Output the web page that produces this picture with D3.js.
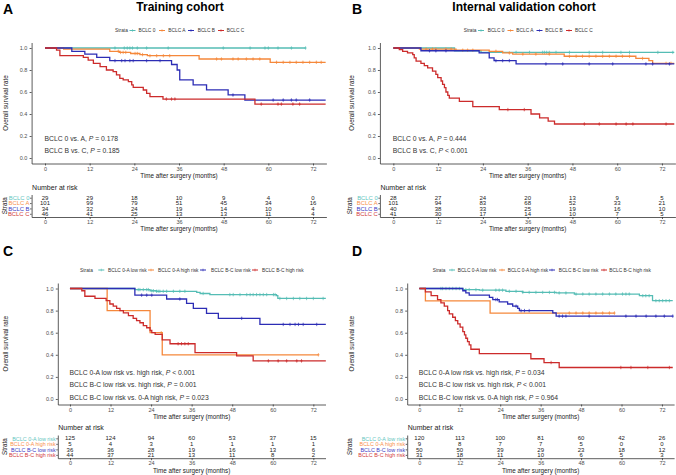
<!DOCTYPE html>
<html><head><meta charset="utf-8">
<script src="https://cdn.jsdelivr.net/npm/d3@7"></script>
<style>body{margin:0;background:#fff}svg{display:block}</style>
</head><body><svg id="chart" width="676" height="475"></svg>
<script>
// ---------------- DATA ----------------
const timeTicks = [0, 12, 24, 36, 48, 60, 72];
const survTicks = [0, 0.2, 0.4, 0.6, 0.8, 1.0];

// Panel A – Training cohort
const A_title = "Training cohort";
const A_labels = ["BCLC 0", "BCLC A", "BCLC B", "BCLC C"];
const A0_time = [0], A0_surv = [1], A0_end = 70;
const A0_cens = [18.8, 21.3, 22.1, 22.8, 23.5, 24.8, 27.3, 33.1, 47.9, 55.1, 59.1, 60, 62.6, 66.2, 70];
const A1_time = [0, 5, 17.4, 20, 23, 25.5, 27.5, 41.4, 60.5];
const A1_surv = [1, 0.99, 0.97, 0.96, 0.95, 0.94, 0.93, 0.90, 0.87], A1_end = 75.4;
const A1_cens = [19.7, 20.3, 21, 21.7, 24.2, 24.8, 26.2, 28.2, 30, 31.8, 33.5, 46.1, 47.4, 50.5, 51.9, 54.1, 55.9, 57.7, 62.2, 64, 65.8, 67.5, 69.3, 71.1, 72.9, 74.2];
const A2_time = [0, 7.2, 10.7, 13.9, 17.4, 34, 35.5, 36.2, 39.8, 43.4, 49.2, 53.7];
const A2_surv = [1, 0.97, 0.945, 0.915, 0.885, 0.85, 0.80, 0.71, 0.665, 0.62, 0.573, 0.527], A2_end = 75.4;
const A2_cens = [18.8, 20.6, 21.5, 22.8, 23.7, 27.3, 30.9, 50.5, 61.3, 64, 66.2, 67.5, 71.1];
const A3_time = [0, 3.1, 4, 10.3, 11.6, 13, 14.8, 16.5, 18.3, 19.2, 20.1, 21, 22.4, 23.3, 23.7, 26.4, 27.3, 28.2, 31.7, 56.4];
const A3_surv = [1, 0.98, 0.93, 0.915, 0.89, 0.86, 0.83, 0.80, 0.785, 0.755, 0.724, 0.71, 0.694, 0.664, 0.642, 0.618, 0.588, 0.558, 0.536, 0.49], A3_end = 75.4;
const A3_cens = [32.6, 34, 34.9, 58.1, 62.6, 63.5, 66.6, 68.4];
const A_pvals = ["BCLC 0 vs. A, |P| = 0.178", "BCLC B vs. C, |P| = 0.185"];
const A_risk = [[29, 29, 18, 10, 9, 4, 0], [101, 99, 79, 51, 45, 34, 16], [34, 32, 24, 19, 14, 10, 4], [46, 41, 25, 13, 13, 11, 4]];

// Panel B – Internal validation cohort
const B_title = "Internal validation cohort";
const B_labels = ["BCLC 0", "BCLC A", "BCLC B", "BCLC C"];
const B0_time = [0, 16.4, 23.5], B0_surv = [1, 0.975, 0.96], B0_end = 75.3;
const B0_cens = [32.9, 36.5, 40, 40.5, 41.1, 41.8, 43.6, 47.2, 52.5, 56.1, 61, 63.3, 70.9, 74.9];
const B1_time = [0, 7, 16.8, 25.7, 29.3, 32, 45.8, 65, 68.5, 69.5];
const B1_surv = [1, 0.99, 0.98, 0.97, 0.955, 0.945, 0.925, 0.905, 0.885, 0.86], B1_end = 75.3;
const B1_cens = [8.8, 10.5, 11.4, 14.1, 15.5, 18.6, 19.9, 21.3, 27.5, 31.1, 34.7, 38.2, 41.8, 47.2, 49, 50.7, 52.5, 54.3, 56.1, 57.9, 59.7, 61.4, 63.3, 66.8, 73.1, 74.4];
const B2_time = [0, 7.4, 23, 25.7, 27, 32.9];
const B2_surv = [1, 0.975, 0.955, 0.91, 0.885, 0.855], B2_end = 75.3;
const B2_cens = [9.7, 11.4, 14.1, 27.5, 29.3, 31.1, 40.9, 45.4, 52.5, 58.8, 67.7, 69.5, 74];
const B3_time = [0, 1.6, 2.5, 3.8, 5.2, 5.6, 6.1, 7.4, 8.3, 9.2, 10.5, 11.4, 11.9, 12.8, 13.2, 13.7, 14.1, 14.6, 15, 17.7, 21.3, 28.4, 36.9, 39.2, 41.5, 43.2];
const B3_surv = [1, 0.985, 0.97, 0.955, 0.94, 0.91, 0.88, 0.86, 0.84, 0.82, 0.79, 0.76, 0.73, 0.70, 0.67, 0.64, 0.60, 0.57, 0.545, 0.515, 0.467, 0.44, 0.40, 0.364, 0.336, 0.309], B3_end = 75.3;
const B3_cens = [30.7, 35.1, 51.2, 55.2, 59.7, 62.4, 64.2, 73.1];
const B_pvals = ["BCLC 0 vs. A, |P| = 0.444", "BCLC B vs. C, |P| < 0.001"];
const B_risk = [[28, 27, 24, 20, 13, 9, 5], [101, 94, 83, 68, 52, 33, 21], [40, 38, 33, 25, 19, 16, 10], [41, 30, 17, 14, 10, 7, 5]];

// Panel C – Training cohort, risk groups
const C_labels = ["BCLC 0-A low risk", "BCLC 0-A high risk", "BCLC B-C low risk", "BCLC B-C high risk"];
const C0_time = [0, 19.2, 23.7, 25.6, 37.5, 38.5, 41.4, 61.1, 61.5];
const C0_surv = [1, 0.99, 0.98, 0.975, 0.965, 0.955, 0.945, 0.935, 0.91], C0_end = 75.7;
const C0_cens = [20.2, 20.7, 21.7, 22.7, 23.2, 24.2, 24.7, 25.6, 26.1, 26.6, 27.6, 28.6, 30.6, 32.5, 34, 39.4, 47.3, 48.3, 50.3, 52.3, 53.3, 54.2, 55.2, 56.2, 57.2, 58.2, 60.2, 60.7, 62.1, 64.1, 66.1, 68, 70, 72, 74.9];
const C1_time = [0, 11, 23.7, 27.3], C1_surv = [1, 0.8, 0.6, 0.4], C1_end = 73.5;
const C1_cens = [27, 73.5];
const C2_time = [0, 19.2, 28.6, 34.5, 36.5, 40.4, 43.9, 56.2];
const C2_surv = [1, 0.94, 0.905, 0.865, 0.82, 0.775, 0.73, 0.675], C2_end = 75.7;
const C2_cens = [21.2, 22.7, 24.2, 32.5, 50.8, 63.1, 65.1, 66.6, 67.6, 69, 73];
const C3_time = [0, 3.5, 4.4, 7.4, 10.7, 11.8, 12.8, 13.8, 14.8, 15.8, 17.3, 18.7, 19.7, 20.7, 21.7, 22.7, 23.7, 24.2, 25.2, 27.3, 29.6, 37, 49.3, 54.2];
const C3_surv = [1, 0.98, 0.93, 0.91, 0.89, 0.86, 0.84, 0.82, 0.80, 0.78, 0.755, 0.73, 0.71, 0.69, 0.665, 0.645, 0.62, 0.60, 0.585, 0.535, 0.50, 0.42, 0.39, 0.345], C3_end = 75.7;
const C3_cens = [32, 33, 34, 35, 58.7, 61.6, 64.1, 67.1, 68.5];
const C_pvals = ["BCLC 0-A low risk vs. high risk, |P| < 0.001", "BCLC B-C low risk vs. high risk, |P| = 0.001", "BCLC B-C low risk vs. 0-A high risk, |P| = 0.023"];
const C_risk = [[125, 124, 94, 60, 53, 37, 15], [5, 4, 3, 1, 1, 1, 1], [36, 36, 28, 19, 16, 13, 6], [44, 37, 21, 13, 11, 8, 2]];

// Panel D – Internal validation cohort, risk groups
const D_labels = ["BCLC 0-A low risk", "BCLC 0-A high risk", "BCLC B-C low risk", "BCLC B-C high risk"];
const D0_time = [0, 12.9, 17.8, 25.7, 30.7, 40.6, 46, 65.3, 69.2];
const D0_surv = [1, 0.99, 0.985, 0.975, 0.965, 0.96, 0.95, 0.935, 0.89], D0_end = 75.2;
const D0_cens = [6.4, 6.9, 7.9, 8.9, 9.9, 10.9, 11.9, 13.8, 14.8, 16.8, 18.8, 22.7, 23.7, 24.7, 26.7, 28.7, 30.7, 32.6, 34.6, 36.6, 38.6, 40.1, 41.5, 43.5, 46.5, 48.5, 50.4, 52.4, 54.4, 56.4, 58.3, 60.3, 61.3, 62.3, 66.3, 67.2, 68.2, 70.2, 71.2, 72.2, 73.2, 74.2];
const D1_time = [0, 1.8, 21], D1_surv = [1, 0.889, 0.778], D1_end = 57.9;
const D1_cens = [44.5, 46.5, 48.5, 50.4, 52.4, 54.4, 56.4, 57.9];
const D2_time = [0, 12.9, 13.8, 14.8, 20.8, 21.8, 23.7, 26.2, 27.7, 29.2, 29.7, 39.6, 40.6];
const D2_surv = [1, 0.98, 0.96, 0.94, 0.92, 0.90, 0.88, 0.86, 0.84, 0.82, 0.80, 0.78, 0.75], D2_end = 75.2;
const D2_cens = [22.7, 23.2, 28.7, 30.2, 31.2, 32.6, 41.5, 42.5, 43.5, 50.4, 61.3, 64.3, 67.3, 70.2, 72.7, 75.2];
const D3_time = [0, 1.8, 3.5, 5.4, 6.4, 7.4, 8.4, 8.9, 9.9, 10.7, 11.4, 12.1, 12.9, 13.4, 13.8, 14.3, 14.8, 15.3, 17.8, 33.1, 37, 41.5];
const D3_surv = [1, 0.97, 0.935, 0.90, 0.87, 0.84, 0.80, 0.77, 0.74, 0.71, 0.68, 0.65, 0.61, 0.58, 0.55, 0.52, 0.49, 0.45, 0.41, 0.364, 0.33, 0.285], D3_end = 75.2;
const D3_cens = [39.1, 59.8, 62.8, 67.8, 74.2];
const D_pvals = ["BCLC 0-A low risk vs. high risk, |P| = 0.034", "BCLC B-C low risk vs. high risk, |P| < 0.001", "BCLC B-C low risk vs. 0-A high risk, |P| = 0.964"];
const D_risk = [[120, 113, 100, 81, 60, 42, 26], [9, 8, 7, 7, 5, 0, 0], [50, 50, 39, 29, 23, 18, 12], [31, 18, 11, 10, 6, 5, 3]];

// ---------------- DRAWING ----------------
const FONT = '"Liberation Sans", Arial, sans-serif';
const colors = ["#55bdb5", "#f5883b", "#2c2db5", "#cc2b2b"];
const labelColors = ["#5fc6c0", "#f8904a", "#3a3ac4", "#d23a3a"];
const svg = d3.select("#chart").attr("font-family", FONT);

function mk(time, surv, end, cens) { return { time, surv, end, cens }; }
function survAt(s, t) { let v = s.surv[0]; for (let k = 0; k < s.time.length; k++) if (s.time[k] <= t) v = s.surv[k]; return v; }

function styleAxis(a, fs) {
  a.attr("font-family", FONT).attr("font-size", fs);
  a.select(".domain").attr("stroke", "#333").attr("stroke-width", 0.8);
  a.selectAll(".tick line").attr("stroke", "#333").attr("stroke-width", 0.8);
  a.selectAll(".tick text").attr("fill", "#4d4d4d");
}

function drawPanel(P) {
  const g = svg.append("g");
  const x = d3.scaleLinear().domain([-3.6, 75.6]).range([P.x0, P.x1]);
  const y = d3.scaleLinear().domain([-0.05, 1.05]).range([P.yBot, P.yTop]);

  // panel letter & title
  g.append("text").attr("x", P.letterX).attr("y", P.letterY).attr("font-size", 14).attr("font-weight", "bold").text(P.letter);
  if (P.title) g.append("text").attr("x", P.titleX).attr("y", 11).attr("text-anchor", "middle").attr("font-size", 12).attr("font-weight", "bold").text(P.title);

  // legend
  const lg = g.append("g").attr("font-size", 4.8).attr("fill", "#333");
  lg.append("text").attr("x", P.legStrata).attr("y", P.legY).attr("dy", "0.35em").text("Strata");
  P.labels.forEach((lab, i) => {
    const kx = P.legKeys[i];
    lg.append("line").attr("x1", kx).attr("x2", kx + 6).attr("y1", P.legY).attr("y2", P.legY).attr("stroke", colors[i]).attr("stroke-width", 1);
    lg.append("path").attr("d", `M${kx + 3},${P.legY - 1.3}V${P.legY + 1.3}`).attr("stroke", colors[i]).attr("stroke-width", 0.6);
    lg.append("text").attr("x", P.legText[i]).attr("y", P.legY).attr("dy", "0.35em").text(lab);
  });

  // curves
  const line = d3.line().x(d => x(d[0])).y(d => y(d[1])).curve(d3.curveStepAfter);
  P.series.forEach((s, i) => {
    const pts = s.time.map((t, k) => [t, s.surv[k]]);
    pts.push([s.end, s.surv[s.surv.length - 1]]);
    g.append("path").datum(pts).attr("d", line).attr("fill", "none").attr("stroke", colors[i]).attr("stroke-width", 1.3);
    s.cens.forEach(c => {
      const cx = x(c), cy = y(survAt(s, c));
      g.append("path").attr("d", `M${cx},${cy - 1.7}V${cy + 1.7}M${cx - 1.2},${cy}H${cx + 1.2}`).attr("stroke", colors[i]).attr("stroke-width", 0.7);
    });
  });

  // axes
  const xa = g.append("g").attr("transform", `translate(0,${P.yBot})`)
    .call(d3.axisBottom(x).tickValues(timeTicks).tickSize(2).tickSizeOuter(0).tickPadding(1.3));
  styleAxis(xa, 5.5);
  const ya = g.append("g").attr("transform", `translate(${P.x0},0)`)
    .call(d3.axisLeft(y).tickValues(survTicks).tickFormat(d3.format(".1f")).tickSize(2).tickSizeOuter(0).tickPadding(2.2));
  styleAxis(ya, 5.5);
  g.append("text").attr("x", x(36)).attr("y", P.yBot + 12.2).attr("dy", "0.35em").attr("text-anchor", "middle").attr("font-size", 6.3).attr("fill", "#222").text("Time after surgery (months)");
  g.append("text").attr("transform", `translate(${P.yTitleX},${(P.yTop + P.yBot) / 2}) rotate(-90)`).attr("dy", "0.35em").attr("text-anchor", "middle").attr("font-size", 6.3).attr("fill", "#222").text("Overall survival rate");

  // p-values
  P.pvals.forEach((txt, i) => {
    const parts = txt.split("|");
    const t = g.append("text").attr("x", x(0) - 0.5).attr("y", P.pY[i]).attr("dy", "0.35em").attr("font-size", 6.8).attr("fill", "#333");
    parts.forEach((p, k) => { const sp = t.append("tspan").text(p); if (k === 1) sp.attr("font-style", "italic"); });
  });

  // risk table
  const ty = d3.scalePoint().domain(P.labels).range([P.tTop, P.tBot]).padding(0.6);
  g.append("text").attr("x", P.x0 + 0.5).attr("y", P.tTop - 7).attr("dy", "0.35em").attr("font-size", 7).attr("fill", "#222").text("Number at risk");
  P.risk.forEach((row, i) => {
    row.forEach((v, j) => {
      g.append("text").attr("x", x(timeTicks[j])).attr("y", ty(P.labels[i])).attr("dy", "0.36em").attr("text-anchor", "middle").attr("font-size", 6).attr("fill", "#222").text(v);
    });
  });
  const txa = g.append("g").attr("transform", `translate(0,${P.tBot})`)
    .call(d3.axisBottom(x).tickValues(timeTicks).tickSize(2).tickSizeOuter(0).tickPadding(1.3));
  styleAxis(txa, 5.5);
  const tya = g.append("g").attr("transform", `translate(${P.x0},0)`)
    .call(d3.axisLeft(ty).tickSize(1.5).tickSizeOuter(0).tickPadding(0.6));
  styleAxis(tya, P.tLabelSize);
  tya.selectAll(".tick text").attr("fill", (d, i) => labelColors[i]);
  g.append("text").attr("x", x(36)).attr("y", P.tBot + 12.2).attr("dy", "0.35em").attr("text-anchor", "middle").attr("font-size", 6.3).attr("fill", "#222").text("Time after surgery (months)");
  g.append("text").attr("transform", `translate(${P.yTitleX - 1.5},${(P.tTop + P.tBot) / 2}) rotate(-90)`).attr("dy", "0.35em").attr("text-anchor", "middle").attr("font-size", 6.3).attr("fill", "#222").text("Strata");
}

drawPanel({
  letter: "A", letterX: 3, letterY: 14, title: A_title, titleX: 180,
  labels: A_labels, x0: 31.6, x1: 326.4, yTop: 42.5, yBot: 163.5, yTitleX: 6,
  legY: 30.5, legStrata: 115, legKeys: [129.5, 159, 188, 218], legText: [138.5, 168.3, 197.7, 226.7],
  series: [mk(A0_time, A0_surv, A0_end, A0_cens), mk(A1_time, A1_surv, A1_end, A1_cens), mk(A2_time, A2_surv, A2_end, A2_cens), mk(A3_time, A3_surv, A3_end, A3_cens)],
  pvals: A_pvals, pY: [138.2, 150.7], risk: A_risk, tTop: 194.5, tBot: 217, tLabelSize: 5.9
});
drawPanel({
  letter: "B", letterX: 352, letterY: 14, title: B_title, titleX: 524,
  labels: B_labels, x0: 379.9, x1: 675.4, yTop: 42.5, yBot: 163.5, yTitleX: 351.5,
  legY: 30.5, legStrata: 463.7, legKeys: [478, 507.5, 536.5, 566], legText: [487.7, 516.3, 545.3, 575],
  series: [mk(B0_time, B0_surv, B0_end, B0_cens), mk(B1_time, B1_surv, B1_end, B1_cens), mk(B2_time, B2_surv, B2_end, B2_cens), mk(B3_time, B3_surv, B3_end, B3_cens)],
  pvals: B_pvals, pY: [138.2, 150.7], risk: B_risk, tTop: 194.5, tBot: 217, tLabelSize: 5.9
});
drawPanel({
  letter: "C", letterX: 3, letterY: 256, title: null,
  labels: C_labels, x0: 57.8, x1: 325.5, yTop: 283, yBot: 404.5, yTitleX: 6,
  legY: 270, legStrata: 80, legKeys: [98.3, 148, 200, 252], legText: [108, 158, 211, 262],
  series: [mk(C0_time, C0_surv, C0_end, C0_cens), mk(C1_time, C1_surv, C1_end, C1_cens), mk(C2_time, C2_surv, C2_end, C2_cens), mk(C3_time, C3_surv, C3_end, C3_cens)],
  pvals: C_pvals, pY: [372.3, 385, 397.5], risk: C_risk, tTop: 435, tBot: 458.2, tLabelSize: 5.4
});
drawPanel({
  letter: "D", letterX: 352, letterY: 256, title: null,
  labels: D_labels, x0: 407.2, x1: 674.1, yTop: 283, yBot: 404.5, yTitleX: 351.5,
  legY: 270, legStrata: 432.7, legKeys: [449, 499, 549, 601], legText: [457.7, 507.7, 558.7, 609.3],
  series: [mk(D0_time, D0_surv, D0_end, D0_cens), mk(D1_time, D1_surv, D1_end, D1_cens), mk(D2_time, D2_surv, D2_end, D2_cens), mk(D3_time, D3_surv, D3_end, D3_cens)],
  pvals: D_pvals, pY: [372.3, 385, 397.5], risk: D_risk, tTop: 435, tBot: 458.2, tLabelSize: 5.4
});
</script></body></html>
